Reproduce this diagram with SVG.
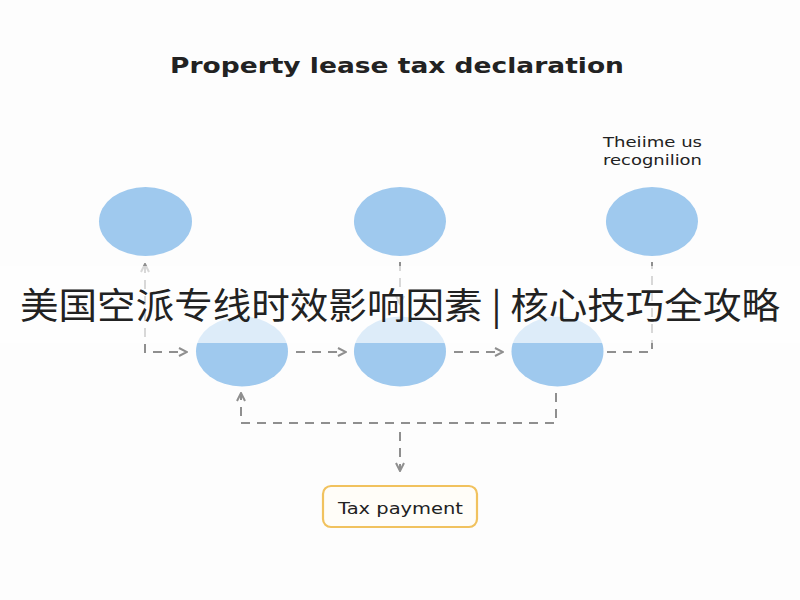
<svg xmlns="http://www.w3.org/2000/svg" width="800" height="600" viewBox="0 0 800 600">
<defs>
<style>
.node{fill:#9fc9ee}
.conn{fill:none;stroke:#8f8f8f;stroke-width:2;stroke-dasharray:9 7}
.lbl{font-family:"DejaVu Sans","Liberation Sans",sans-serif;fill:#222}
</style>
<marker id="arr" viewBox="0 0 10 10" refX="9" refY="5" markerWidth="5" markerHeight="5" orient="auto-start-reverse" markerUnits="strokeWidth">
<path d="M1,1 L9,5 L1,9" fill="none" stroke="#8f8f8f" stroke-width="2"/>
</marker>
</defs>
<rect width="800" height="600" fill="#fdfdfd"/>
<text class="lbl" x="170" y="73" font-size="22" font-weight="bold" textLength="454" lengthAdjust="spacingAndGlyphs" fill="#1a1a1a">Property lease tax declaration</text>
<g id="note">
<text class="lbl" x="603" y="147" font-size="14" textLength="99" lengthAdjust="spacingAndGlyphs">Theiime us</text>
<text class="lbl" x="603" y="165" font-size="14" textLength="99" lengthAdjust="spacingAndGlyphs">recognilion</text>
</g>
<g id="connectors">
<path class="conn" d="M145,264 L145,352 L187,352" marker-start="url(#arr)" marker-end="url(#arr)"/>
<path class="conn" d="M296,352 L346,352" marker-end="url(#arr)"/>
<path class="conn" d="M454,352 L503,352" marker-end="url(#arr)"/>
<path class="conn" d="M400,262 L400,304" marker-end="url(#arr)"/>
<path class="conn" d="M607,352 L652,352 L652,262"/>
<path class="conn" d="M556,393 L556,423 L241,423 L241,393" marker-end="url(#arr)"/>
<path class="conn" d="M400,432 L400,471" marker-end="url(#arr)"/>
</g>
<g id="top1"><ellipse class="node" cx="145.5" cy="221.5" rx="46.5" ry="34.5"/></g>
<g id="top2"><ellipse class="node" cx="400" cy="221.5" rx="46" ry="34.5"/></g>
<g id="top3"><ellipse class="node" cx="652" cy="221.5" rx="46" ry="34.5"/></g>
<g id="bot1"><ellipse class="node" cx="242" cy="351.5" rx="46" ry="35"/></g>
<g id="bot2"><ellipse class="node" cx="400" cy="351.5" rx="46" ry="35"/></g>
<g id="bot3"><ellipse class="node" cx="557.5" cy="351.5" rx="46" ry="35"/></g>
<g id="tax">
<rect x="323" y="486" width="154" height="41" rx="8" fill="#fffdf8" stroke="#f1c25e" stroke-width="2.2"/>
<text class="lbl" x="338" y="514" font-size="16" textLength="125" lengthAdjust="spacingAndGlyphs">Tax payment</text>
</g>
<rect x="0" y="266" width="800" height="77" fill="#ffffff" fill-opacity="0.65"/>
<text x="20" y="319" font-family="'Noto Sans CJK SC','Noto Sans',sans-serif" font-size="36" textLength="760" lengthAdjust="spacingAndGlyphs" fill="#222">美国空派专线时效影响因素 | 核心技巧全攻略</text>
</svg>
